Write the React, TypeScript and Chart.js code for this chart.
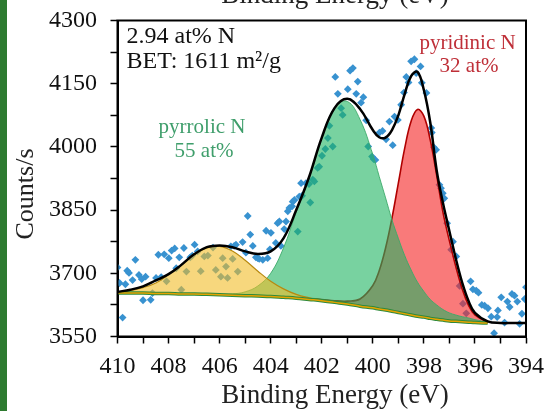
import React, { useEffect, useRef } from 'react';
import { Chart, registerables } from 'chart.js';

Chart.register(...registerables);

// ---- data ----
const energy = [410, 409.5, 409, 408.5, 408, 407.5, 407, 406.5, 406, 405.5, 405, 404.5, 404, 403.5, 403, 402.5, 402, 401.5, 401, 400.5, 400, 399.75, 399.5, 399.25, 399, 398.75, 398.5, 398.25, 398, 397.75, 397.5, 397.25, 397, 396.75, 396.5, 396.25, 396, 395.5, 395, 394.5, 394];

const background = [3653, 3653, 3653, 3652, 3652, 3651, 3651, 3650, 3649, 3648, 3647, 3646, 3645, 3643, 3641, 3638, 3635, 3631, 3627, 3622, 3618, 3615, 3613, 3610, 3607, 3604, 3601, 3598, 3596, 3593, 3591, 3589, 3587, 3586, 3585, 3584, 3583, 3582, null, null, null];

const yellowComponent = [3655, 3659, 3666, 3677, 3697, 3720, 3744, 3760, 3764, 3753, 3731, 3705, 3681, 3663, 3650, 3642, 3636, 3631, 3627, 3622, 3618, 3615, 3613, 3610, 3607, 3604, 3601, 3598, 3596, 3593, 3591, 3589, 3587, 3586, 3585, 3584, 3583, 3582, null, null, null];

const pyrrolicComponent = [3653, 3653, 3653, 3652, 3652, 3651, 3651, 3650, 3650, 3651, 3656, 3670, 3700, 3760, 3845, 3925, 4020, 4093, 4108, 4065, 3982, 3930, 3879, 3827, 3783, 3742, 3708, 3679, 3657, 3638, 3625, 3614, 3606, 3601, 3597, 3594, 3590, 3584, null, null, null];

const pyridinicComponent = [3653, 3653, 3653, 3652, 3652, 3651, 3651, 3650, 3649, 3648, 3647, 3646, 3645, 3643, 3641, 3640, 3638, 3635, 3634, 3639, 3671, 3706, 3760, 3831, 3914, 3997, 4061, 4089, 4073, 4016, 3933, 3844, 3777, 3716, 3663, 3624, 3601, 3584, null, null, null];

const envelope = [3656, 3661, 3669, 3683, 3698, 3720, 3745, 3762, 3766, 3762, 3752, 3746, 3752, 3783, 3850, 3928, 4022, 4092, 4114, 4090, 4040, 4023, 4022, 4040, 4075, 4126, 4168, 4178, 4135, 4058, 3945, 3866, 3800, 3735, 3678, 3634, 3606, 3586, 3582, 3582, 3582];

const pointEnergy = [410.0, 409.92, 409.8, 409.69, 409.62, 409.55, 409.41, 409.3, 409.16, 409.05, 409.0, 408.9, 408.7, 408.63, 408.49, 408.4, 408.29, 408.17, 408.08, 407.99, 407.88, 407.76, 407.7, 407.58, 407.5, 407.4, 407.3, 407.15, 407.07, 406.98, 406.86, 406.74, 406.6, 406.46, 406.26, 406.15, 405.95, 405.88, 405.75, 405.69, 405.56, 405.49, 405.43, 405.36, 405.29, 405.1, 404.97, 404.9, 404.8, 404.7, 404.58, 404.51, 404.45, 404.31, 404.18, 404.12, 404.03, 403.99, 403.8, 403.73, 403.66, 403.6, 403.47, 403.4, 403.33, 403.27, 403.16, 403.14, 403.07, 402.94, 402.88, 402.81, 402.77, 402.62, 402.5, 402.45, 402.35, 402.29, 402.16, 402.1, 401.99, 401.86, 401.76, 401.7, 401.57, 401.47, 401.37, 401.24, 401.18, 400.98, 400.89, 400.78, 400.65, 400.59, 400.46, 400.37, 400.26, 400.18, 400.03, 399.97, 399.9, 399.74, 399.62, 399.48, 399.35, 399.22, 399.15, 399.02, 398.89, 398.78, 398.69, 398.6, 398.5, 398.37, 398.3, 398.13, 398.08, 397.9, 397.71, 397.69, 397.61, 397.52, 397.39, 397.33, 397.26, 397.2, 397.09, 396.93, 396.86, 396.73, 396.6, 396.47, 396.34, 396.17, 396.08, 395.95, 395.86, 395.73, 395.62, 395.49, 395.36, 395.25, 395.13, 395.1, 394.97, 394.84, 394.73, 394.64, 394.55, 394.45, 394.34, 394.25, 394.16, 394.05, 394.0];

const pointCounts = [3714, 3677, 3595, 3674, 3706, 3701, 3684, 3732, 3696, 3686, 3636, 3692, 3637, 3653, 3689, 3744, 3691, 3745, 3681, 3736, 3754, 3759, 3712, 3738, 3661, 3760, 3704, 3738, 3742, 3768, 3752, 3705, 3740, 3742, 3761, 3708, 3692, 3736, 3716, 3689, 3764, 3734, 3765, 3768, 3704, 3774, 3749, 3836, 3792, 3765, 3738, 3736, 3734, 3732, 3801, 3736, 3757, 3796, 3772, 3819, 3823, 3765, 3805, 3823, 3847, 3855, 3859, 3870, 3874, 3799, 3882, 3914, 3884, 3914, 3912, 3868, 3922, 3918, 3950, 3953, 3979, 3995, 4021, 4050, 4001, 4166, 4126, 4092, 4076, 4137, 4181, 4187, 4126, 4155, 4105, 4118, 4063, 4001, 3977, 3971, 3969, 4034, 4038, 4018, 4060, 4004, 4072, 4064, 4100, 4129, 4166, 4153, 4203, 4208, 4175, 4191, 4152, 4128, 4045, 4034, 3999, 3993, 3910, 3902, 3890, 3878, 3819, 3756, 3775, 3740, 3670, 3628, 3605, 3681, 3662, 3659, 3654, 3625, 3623, 3617, 3597, 3558, 3596, 3612, 3643, 3583, 3633, 3620, 3651, 3647, 3633, 3580, 3604, 3639, 3667];

const xTickLabels = [410, 408, 406, 404, 402, 400, 398, 396, 394];
const yTickLabels = [3550, 3700, 3850, 4000, 4150, 4300];

const infoLines = ['2.94 at% N', 'BET: 1611 m\u00B2/g'];
const pyrrolicLabel = ['pyrrolic N', '55 at%'];
const pyridinicLabel = ['pyridinic N', '32 at%'];
const xTitle = 'Binding Energy (eV)';
const yTitle = 'Counts/s';

const FONT = "'Liberation Serif', 'Times New Roman', serif";

const series = (ys: (number | null)[]) => energy.map((x, i) => ({ x, y: ys[i] }));

const decorations = {
  id: 'decorations',
  afterDraw(chart: any) {
    const { ctx, chartArea: a, scales } = chart;
    const sx = scales.x;
    const sy = scales.y;
    ctx.save();
    // frame
    ctx.strokeStyle = '#000';
    ctx.lineWidth = 2;
    ctx.strokeRect(a.left, a.top, a.right - a.left, a.bottom - a.top);

    // cropped title of the panel above
    ctx.fillStyle = '#222';
    ctx.font = `27px ${FONT}`;
    ctx.textAlign = 'center';
    ctx.textBaseline = 'alphabetic';
    ctx.fillText(xTitle, 335, 3);

    // axis titles
    ctx.textBaseline = 'middle';
    ctx.fillText(xTitle, 335, 396);
    ctx.save();
    ctx.translate(26, 194);
    ctx.rotate(-Math.PI / 2);
    ctx.font = `26px ${FONT}`;
    ctx.fillText(yTitle, 0, 0);
    ctx.restore();

    // info text
    ctx.textAlign = 'left';
    ctx.textBaseline = 'alphabetic';
    ctx.fillStyle = '#111';
    ctx.font = `24px ${FONT}`;
    ctx.fillText(infoLines[0], a.left + 9, a.top + 22);
    ctx.fillText(infoLines[1], a.left + 9, a.top + 47);

    // peak labels
    ctx.textAlign = 'center';
    ctx.font = `21px ${FONT}`;
    ctx.fillStyle = '#3f9e6b';
    ctx.fillText(pyrrolicLabel[0], sx.getPixelForValue(406.69), sy.getPixelForValue(4033));
    ctx.fillText(pyrrolicLabel[1], sx.getPixelForValue(406.61), sy.getPixelForValue(3977));
    ctx.fillStyle = '#bf2f38';
    ctx.fillText(pyridinicLabel[0], sx.getPixelForValue(396.29), sy.getPixelForValue(4232));
    ctx.fillText(pyridinicLabel[1], sx.getPixelForValue(396.23), sy.getPixelForValue(4177));
    ctx.restore();
  },
};

export default function App() {
  const ref = useRef<HTMLCanvasElement>(null);

  useEffect(() => {
    if (!ref.current) return;
    const curve = {
      showLine: true,
      pointRadius: 0,
      tension: 0.4,
      spanGaps: false,
    };
    const chart = new Chart(ref.current, {
      type: 'scatter',
      data: {
        datasets: [
          {
            ...curve,
            label: 'envelope',
            data: series(envelope),
            borderColor: '#000',
            borderWidth: 2.5,
            fill: false,
            order: 0,
          },
          {
            ...curve,
            label: 'background-orange',
            data: series(background),
            borderColor: '#e6a300',
            borderWidth: 1.5,
            fill: false,
            order: 1,
          },
          {
            ...curve,
            label: 'background',
            data: series(background),
            borderColor: '#2f8a3c',
            borderWidth: 3.5,
            fill: false,
            order: 2,
          },
          {
            ...curve,
            label: 'N-oxide',
            data: series(yellowComponent),
            borderColor: '#b88a10',
            borderWidth: 1.2,
            backgroundColor: 'rgba(242,188,38,0.6)',
            fill: { target: 2 },
            order: 3,
          },
          {
            ...curve,
            label: 'pyrrolic N',
            data: series(pyrrolicComponent),
            borderColor: 'rgba(60,170,105,0.9)',
            borderWidth: 1,
            backgroundColor: 'rgba(30,180,97,0.6)',
            fill: { target: 2 },
            order: 4,
          },
          {
            ...curve,
            label: 'pyridinic N',
            data: series(pyridinicComponent),
            borderColor: '#b00000',
            borderWidth: 1.6,
            backgroundColor: 'rgba(245,40,40,0.62)',
            fill: { target: 2 },
            order: 5,
          },
          {
            label: 'data',
            data: pointEnergy.map((x, i) => ({ x, y: pointCounts[i] })),
            showLine: false,
            pointStyle: 'rectRot',
            pointRadius: 3.9,
            pointBorderWidth: 0,
            backgroundColor: 'rgb(56,146,208)',
            borderColor: 'rgb(56,146,208)',
            order: 6,
          },
        ],
      },
      options: {
        responsive: false,
        maintainAspectRatio: false,
        animation: false,
        devicePixelRatio: 1,
        events: [],
        layout: { padding: { left: 0, top: 20.5, right: 19, bottom: 0 } },
        plugins: {
          legend: { display: false },
          tooltip: { enabled: false },
          title: { display: false },
        },
        scales: {
          x: {
            type: 'linear',
            reverse: true,
            min: 394,
            max: 410,
            afterFit: (s: any) => {
              s.height = 74.5;
              s.paddingLeft = 0;
              s.paddingRight = 0;
            },
            ticks: {
              stepSize: 1,
              autoSkip: false,
              maxRotation: 0,
              padding: 9,
              color: '#111',
              font: { family: FONT, size: 24 },
              callback: (v: any) => (xTickLabels.includes(Number(v)) ? String(v) : ''),
            },
            grid: {
              drawOnChartArea: false,
              drawTicks: true,
              tickLength: 7,
              tickWidth: 1.5,
              tickColor: '#000',
            },
            border: { display: true, color: '#000', width: 2 },
          },
          y: {
            type: 'linear',
            min: 3550,
            max: 4300,
            afterFit: (s: any) => {
              s.width = 117.5;
              s.paddingTop = 0;
              s.paddingBottom = 0;
            },
            ticks: {
              stepSize: 75,
              autoSkip: false,
              padding: 13.5,
              color: '#111',
              font: { family: FONT, size: 24 },
              callback: (v: any) => (yTickLabels.includes(Number(v)) ? String(v) : ''),
            },
            grid: {
              drawOnChartArea: false,
              drawTicks: true,
              tickLength: 7,
              tickWidth: 1.5,
              tickColor: '#000',
            },
            border: { display: true, color: '#000', width: 2 },
          },
        },
      },
      plugins: [decorations],
    } as any);
    return () => chart.destroy();
  }, []);

  return (
    <div style={{ position: 'absolute', left: 0, top: 0, width: 545, height: 411, background: '#fff', overflow: 'hidden' }}>
      <canvas ref={ref} width={545} height={411} style={{ position: 'absolute', left: 0, top: 0, width: 545, height: 411 }} />
      <div style={{ position: 'absolute', left: 0, top: 0, width: 7, height: 411, background: '#2e7b30' }} />
    </div>
  );
}
